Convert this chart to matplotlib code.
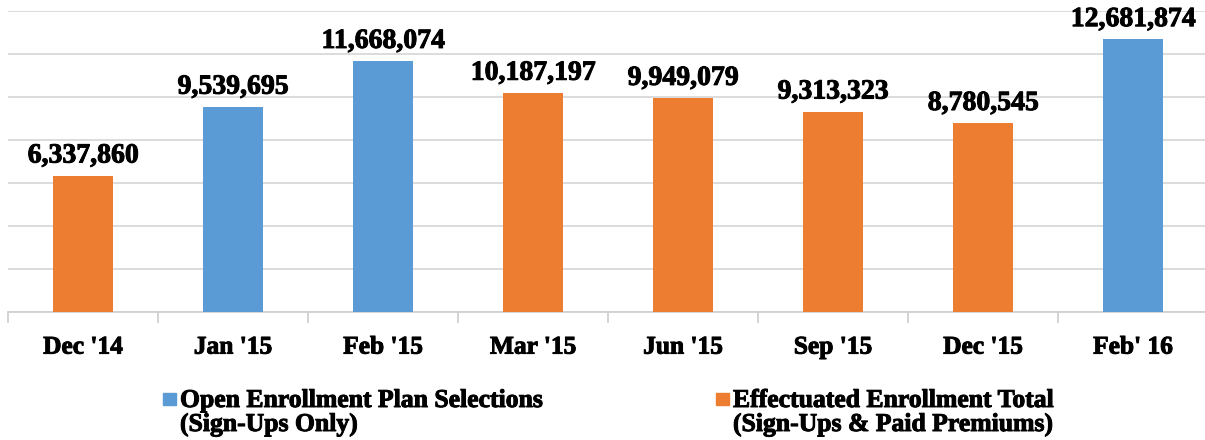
import matplotlib
matplotlib.use("Agg")
import matplotlib.pyplot as plt
import matplotlib.patheffects as pe
from matplotlib.patches import Rectangle
import numpy as np

categories = ["Dec '14", "Jan '15", "Feb '15", "Mar '15", "Jun '15", "Sep '15", "Dec '15", "Feb' 16"]
values = [6337860, 9539695, 11668074, 10187197, 9949079, 9313323, 8780545, 12681874]
# 0 = open enrollment plan selections, 1 = effectuated enrollment
series = [1, 0, 0, 1, 1, 1, 1, 0]
series_names = ["Open Enrollment Plan Selections\n(Sign-Ups Only)",
                "Effectuated Enrollment Total\n(Sign-Ups & Paid Premiums)"]
colors = ["#5B9BD5", "#ED7D31"]

W, H = 1205, 440
font = "Liberation Serif"
heavy = [pe.withStroke(linewidth=0.7, foreground="black")]

fig = plt.figure(figsize=(W / 100, H / 100), dpi=100)
ax = fig.add_axes([8 / W, (H - 312) / H, 1200 / W, 301 / H])

x = np.arange(len(categories))
bar_colors = [colors[s] for s in series]
ax.bar(x, values, width=0.4, color=bar_colors, zorder=3)

ax.set_xlim(-0.5, len(categories) - 0.5)
ax.set_ylim(0, 14000000)
ax.set_yticks(np.arange(0, 14000001, 2000000))
ax.yaxis.grid(True, color="#d9d9d9", linewidth=1.3, zorder=0)
ax.tick_params(axis="y", left=False, labelleft=False)

for s in ["top", "right", "left"]:
    ax.spines[s].set_visible(False)
ax.spines["bottom"].set_color("#d0d0d0")
ax.spines["bottom"].set_linewidth(1.3)

ax.set_xticks(x)
ax.set_xticklabels(categories, fontfamily=font, fontweight="bold", fontsize=18.3)
for t in ax.get_xticklabels():
    t.set_path_effects(heavy)
ax.tick_params(axis="x", length=0, pad=17)
ax.set_xticks(np.arange(-0.5, len(categories), 1), minor=True)
ax.tick_params(axis="x", which="minor", length=8, color="#d0d0d0", width=1.3)

for xi, v in zip(x, values):
    ax.annotate(f"{v:,}", (xi, v), xytext=(0, 9.5), textcoords="offset points",
                ha="center", va="baseline", fontfamily=font, fontweight="bold",
                fontsize=20, path_effects=heavy)

# legend drawn by hand so the swatch sits on the first line
leg_x = [163, 716]
for i, name in enumerate(series_names):
    fig.add_artist(Rectangle((leg_x[i] / W, (H - 405) / H), 13 / W, 12 / H,
                             transform=fig.transFigure, color=colors[i]))
    for j, line in enumerate(name.split("\n")):
        fig.text((leg_x[i] + 17) / W, (H - 407 - 24 * j) / H, line, ha="left",
                 va="baseline", fontfamily=font, fontweight="bold", fontsize=18.5,
                 path_effects=heavy)

fig.savefig("out.png", dpi=100)
